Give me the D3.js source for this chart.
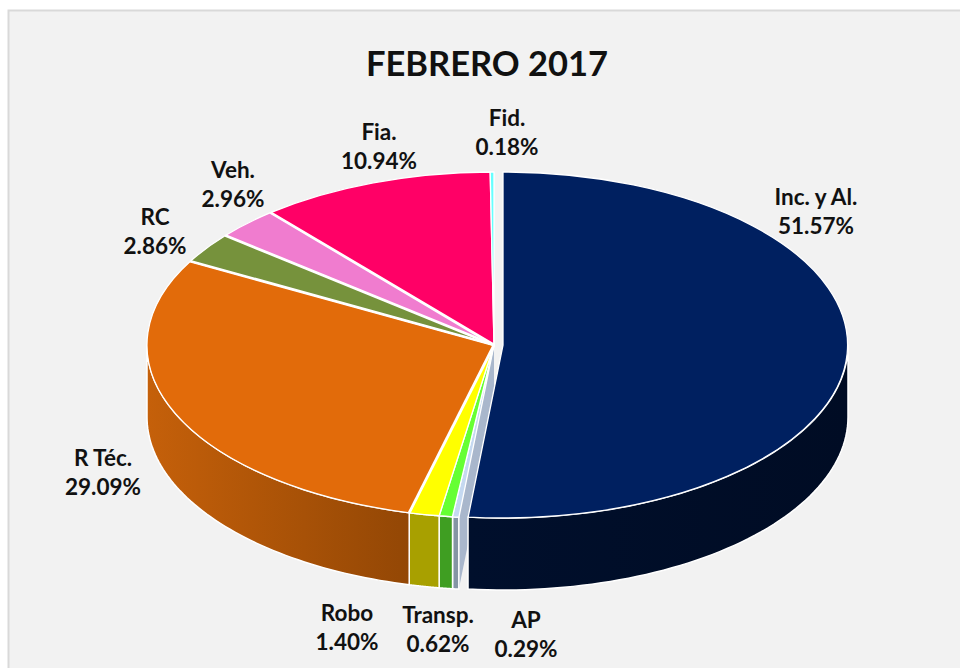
<!DOCTYPE html>
<html>
<head>
<meta charset="utf-8">
<script src="https://cdn.jsdelivr.net/npm/d3@7"></script>
<style>
  html, body { margin: 0; padding: 0; background: #fff; }
  text { font-family: Lato, "Open Sans", sans-serif; font-weight: 700; fill: #111; }
</style>
</head>
<body>
<svg id="chart"></svg>
<script>
// values
const names  = ["Inc. y Al.", "AP", "Transp.", "Robo", "R Téc.", "RC", "Veh.", "Fia.", "Fid."];
const shares = [51.57, 0.29, 0.62, 1.40, 29.09, 2.86, 2.96, 10.94, 0.18];
const tops   = ["#002060", "#c5d9f1", "#66ff33", "#ffff00", "#e26b0a", "#76923c", "#f07ccf", "#ff0066", "#66ffff"];
const walls  = [["#000c24", "#000f2c"], ["#8495a5", "#8495a5"], ["#3f9e22", "#3f9e22"], ["#a8a000", "#a8a000"],
                ["#c5600a", "#934705"], ["#76923c", "#76923c"], ["#f07ccf", "#f07ccf"], ["#ff0066", "#ff0066"], ["#66ffff", "#66ffff"]];
// label centres, layout only
const labelX = [816, 526, 438, 347, 103, 155, 233, 379, 507];
const labelY = [212, 635, 630, 628, 473, 232, 185, 147, 133];
// slices with a wider white cut on their leading edge
const cuts = [4, 5, 6, 7];

const width = 960, height = 668, depth = 72;
const svg = d3.select("#chart").attr("width", width).attr("height", height);

svg.append("rect").attr("x", 8.5).attr("y", 10.5).attr("width", 960).attr("height", 680)
   .attr("fill", "#f2f2f2").attr("stroke", "#d9d9d9").attr("stroke-width", 2);

svg.append("text").attr("x", 487).attr("y", 76).attr("text-anchor", "middle")
   .attr("font-size", 34.5).text("FEBRERO 2017");

const pie = d3.pie().sort(null).value(d => d);
const arcs = pie(shares);

// the big slice is pulled out to the right
const cxOf = i => i === 0 ? 503 : 494,
      rxOf = i => i === 0 ? 345 : 347,
      cy = 345, ry = 173;
const px = (i, a) => cxOf(i) + rxOf(i) * Math.sin(a),
      py = a => cy - ry * Math.cos(a);

const defs = svg.append("defs");
const unit = d3.arc().innerRadius(0).outerRadius(1);

// outer wall, only the part facing the viewer
const front = d => {
  const lo = Math.max(d.startAngle, Math.PI / 2), hi = Math.min(d.endAngle, Math.PI * 1.5);
  return lo < hi ? [lo, hi] : null;
};
const wallPath = (d, i) => {
  const [lo, hi] = front(d);
  const steps = d3.range(0, 61).map(k => lo + (hi - lo) * k / 60);
  const upper = steps.map(a => [px(i, a), py(a)]);
  const lower = steps.slice().reverse().map(a => [px(i, a), py(a) + depth]);
  return d3.line()(upper.concat(lower)) + "Z";
};

arcs.forEach((d, i) => {
  if (!front(d)) return;
  const [lo, hi] = front(d);
  const xs = [px(i, lo), px(i, hi)];
  const g = defs.append("linearGradient").attr("id", "w" + i).attr("gradientUnits", "userSpaceOnUse")
    .attr("x1", d3.min(xs)).attr("x2", d3.max(xs)).attr("y1", 0).attr("y2", 0);
  const c = walls[i];
  g.append("stop").attr("offset", 0).attr("stop-color", i === 4 ? c[0] : c[1]);
  g.append("stop").attr("offset", 1).attr("stop-color", i === 4 ? c[1] : c[0]);
});

// cut face of the small AP slice, seen in the gap next to the big slice
const ap = arcs[1];
svg.append("path")
   .attr("d", d3.line()([[cxOf(1), cy], [px(1, ap.startAngle), py(ap.startAngle)],
                         [px(1, ap.startAngle), py(ap.startAngle) + depth], [cxOf(1), cy + depth]]) + "Z")
   .attr("fill", "#a9b7cc");

const order = [1, 2, 3, 4, 5, 6, 7, 8, 0];

svg.append("g").selectAll("path")
   .data(order.filter(i => front(arcs[i])))
   .join("path")
   .attr("d", i => wallPath(arcs[i], i))
   .attr("fill", i => `url(#w${i})`)
   .attr("stroke", "#fff").attr("stroke-width", 1.5).attr("stroke-linejoin", "round");

svg.append("g").selectAll("path")
   .data(order)
   .join("path")
   .attr("d", i => unit(arcs[i]))
   .attr("transform", i => `translate(${cxOf(i)},${cy}) scale(${rxOf(i)},${ry})`)
   .attr("fill", i => tops[i])
   .attr("stroke", "#fff").attr("stroke-width", 1.3)
   .attr("vector-effect", "non-scaling-stroke").attr("stroke-linejoin", "round");

svg.append("g").selectAll("path")
   .data(cuts)
   .join("path")
   .attr("d", i => d3.line()([[cxOf(i), cy], [px(i, arcs[i].startAngle), py(arcs[i].startAngle)]]))
   .attr("stroke", "#fff").attr("stroke-width", 2.8);

const fmt = d3.format(".2f");
const labels = svg.append("g").selectAll("text").data(names).join("text")
   .attr("text-anchor", "middle").attr("font-size", 22.5);
labels.append("tspan").attr("x", (d, i) => labelX[i]).attr("y", (d, i) => labelY[i] - 7).text(d => d);
labels.append("tspan").attr("x", (d, i) => labelX[i]).attr("y", (d, i) => labelY[i] + 22).text((d, i) => fmt(shares[i]) + "%");
</script>
</body>
</html>
